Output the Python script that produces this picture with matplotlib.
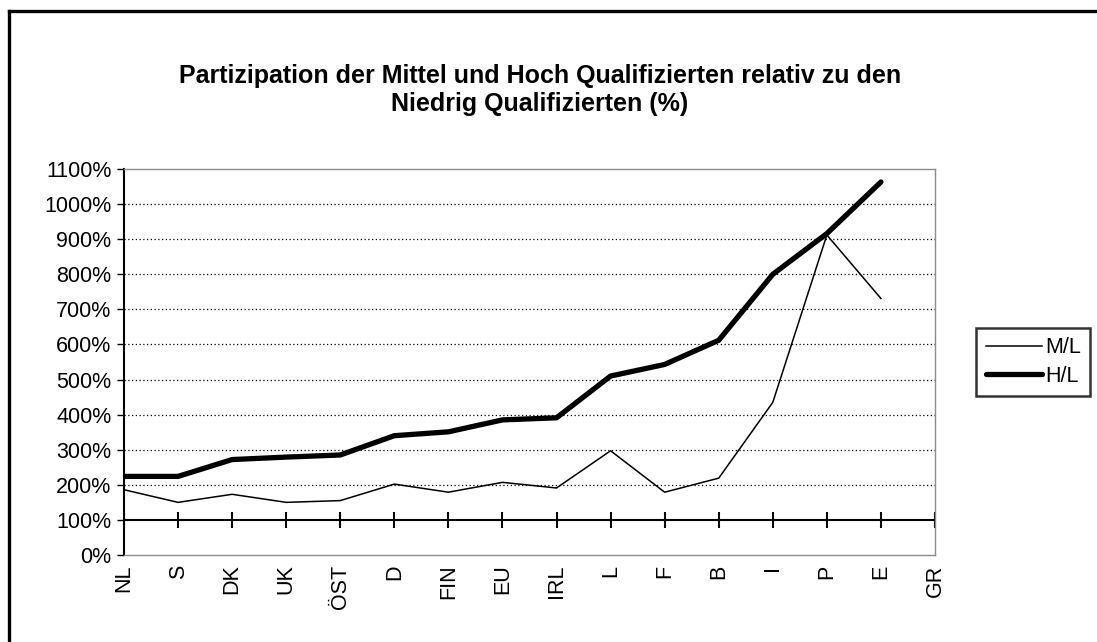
import numpy as np
import matplotlib.pyplot as plt
from matplotlib.lines import Line2D

plt.rcParams['font.family'] = ['Liberation Sans', 'DejaVu Sans']

# categories and series (percent), GR has no value
countries = ['NL', 'S', 'DK', 'UK', 'ÖST', 'D', 'FIN', 'EU', 'IRL', 'L', 'F', 'B', 'I', 'P', 'E', 'GR']
m_l = [186, 150, 173, 150, 155, 202, 179, 207, 191, 297, 179, 219, 435, 912, 731, np.nan]
h_l = [224, 224, 272, 279, 285, 340, 351, 385, 391, 510, 543, 612, 800, 916, 1063, np.nan]
y_ticks = [0, 100, 200, 300, 400, 500, 600, 700, 800, 900, 1000, 1100]

W, H = 1097, 642
fig = plt.figure(figsize=(W / 100, H / 100), dpi=100)

# outer chart frame (right and bottom edge fall outside the picture)
fig.add_artist(Line2D([9 / W, 9 / W], [0, 1 - 11 / H], color='black', lw=2.4))
fig.add_artist(Line2D([9 / W, 1], [1 - 11 / H, 1 - 11 / H], color='black', lw=2.4))

ax = fig.add_axes([124 / W, (H - 555) / H, (935 - 124) / W, (555 - 169) / H])
x = np.arange(len(countries))

# dotted grid
for v in y_ticks[2:-1]:
    ax.axhline(v, color='black', lw=0.9, ls=(0, (1, 2)), zorder=1)

# category axis crosses at 100%
ax.axhline(100, color='black', lw=1.5, zorder=2)
ax.plot(x, [100] * len(x), ls='none', marker='|', markersize=11, mew=1.5, color='black', zorder=2)

ax.plot(x, m_l, color='black', lw=1.1, label='M/L', zorder=3)
ax.plot(x, h_l, color='black', lw=3.8, label='H/L', solid_capstyle='round', zorder=4)

ax.set_xlim(0, len(countries) - 1)
ax.set_ylim(0, 1100)
ax.set_yticks(y_ticks)
ax.set_yticklabels([f'{v}%' for v in y_ticks], fontsize=15.5)
ax.set_xticks(x)
ax.set_xticklabels(countries, rotation=90, fontsize=15.5, va='top')
ax.tick_params(axis='x', length=0, pad=7)
ax.tick_params(axis='y', direction='out', length=5, width=1, pad=4)

for s in ['top', 'right', 'bottom']:
    ax.spines[s].set_color('#8c8c8c')
    ax.spines[s].set_linewidth(1.0)
ax.spines['left'].set_color('black')
ax.spines['left'].set_linewidth(1.5)

fig.text(540 / W, 1 - 76 / H, 'Partizipation der Mittel und Hoch Qualifizierten relativ zu den',
         ha='center', va='center', fontsize=18, fontweight='bold')
fig.text(540 / W, 1 - 104 / H, 'Niedrig Qualifizierten (%)',
         ha='center', va='center', fontsize=18, fontweight='bold')

leg = ax.legend(loc='center left', bbox_to_anchor=(976 / W, 1 - 362 / H),
                bbox_transform=fig.transFigure, fontsize=15.5, frameon=True,
                fancybox=False, edgecolor='black', handlelength=2.6,
                handletextpad=0.15, borderpad=0.45, labelspacing=0.35,
                borderaxespad=0)
leg.get_frame().set_linewidth(1.8)

fig.savefig('out.png', dpi=100)
